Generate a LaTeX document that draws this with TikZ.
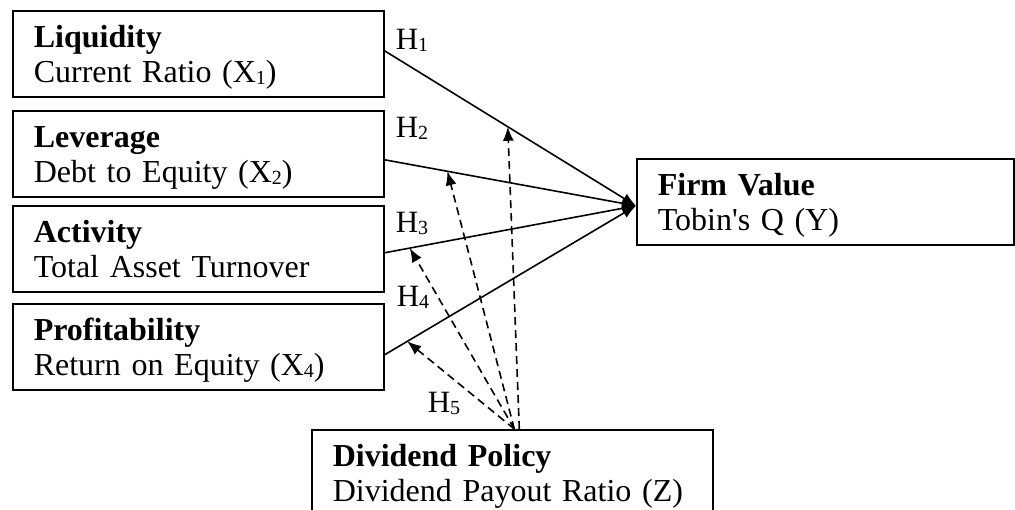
\documentclass[tikz,border=0pt]{standalone}
\usepackage{fontspec}
\setmainfont{Liberation Serif}[Ligatures = TeXOff]
\usetikzlibrary{arrows.meta}

\newcommand\ix[1]{\raisebox{-2pt}{\fontsize{20}{20}\selectfont #1}}

\tikzset{
	varbox/.style = {draw, line width = 1.6pt, minimum height = 86pt, anchor = north west, inner sep = 0pt},
	vartext/.style = {anchor = base west, text width = 370pt, inner sep = 0pt, font = \fontsize{32}{35}\selectfont\raggedright},
	hyp/.style = {anchor = base west, inner sep = 0pt, font = \fontsize{31}{35}\selectfont},
	modline/.style = {dash pattern = on 8pt off 5pt}
}

\begin{document}
\begin{tikzpicture}[x = 1pt, y = -1pt, line width = 1.6pt, > = {Latex[length = 14pt, width = 11pt]}]

	% Page size
	
	\clip (0, 0) rectangle (1015, 510);
	
	% Boxes: name / x / y / width / title / measure
	
	\foreach \nm/\x/\y/\w/\hd/\tx in {
		liq/12/10/371/Liquidity/Current Ratio (X\ix{1}),
		lev/12/110/371/Leverage/Debt to Equity (X\ix{2}),
		act/12/205/371/Activity/Total Asset Turnover,
		prof/12/303/371/Profitability/Return on Equity (X\ix{4}),
		firm/636/158/377/Firm Value/Tobin's Q (Y),
		div/311/429/401/Dividend Policy/Dividend Payout Ratio (Z)}
	{
		\node [varbox, minimum width = \w pt] (\nm) at (\x, \y) {};
		\begin{scope}
			\clip (\nm.north west) rectangle ([yshift = 9pt]\nm.south east);
			\node [vartext] at ([shift = {(21pt, -38pt)}]\nm.north west) {\textbf{\hd}\\ \tx};
		\end{scope}
	}
	
	% Direct effects
	
	\coordinate (tip) at ([yshift = -4pt]firm.west);
	
	\draw [->] ([yshift = 3pt]liq.east) -- coordinate [pos = 0.49] (m1) (tip);
	\draw [->] ([yshift = -6pt]lev.east) -- coordinate [pos = 0.25] (m2) (tip);
	\draw [->] ([yshift = -4pt]act.east) -- coordinate [pos = 0.1] (m3) (tip);
	\draw [->] ([yshift = -8pt]prof.east) -- coordinate [pos = 0.09] (m4) (tip);
	
	% Moderating effects
	
	\draw [->, modline] ([xshift = 7pt]div.north) -- (m1);
	\draw [->, modline] ([xshift = 2pt]div.north) -- (m2);
	\draw [->, modline] ([xshift = 2pt]div.north) -- (m3);
	\draw [->, modline] ([xshift = 2pt]div.north) -- (m4);
	
	% Hypotheses
	
	\node [hyp] (h1) at (395, 50) {H\ix{1}};
	\node [hyp] (h2) at (395, 138) {H\ix{2}};
	\node [hyp] (h3) at (395, 233) {H\ix{3}};
	\node [hyp] (h4) at (396, 307) {H\ix{4}};
	\node [hyp] (h5) at (427, 413) {H\ix{5}};

\end{tikzpicture}
\end{document}
